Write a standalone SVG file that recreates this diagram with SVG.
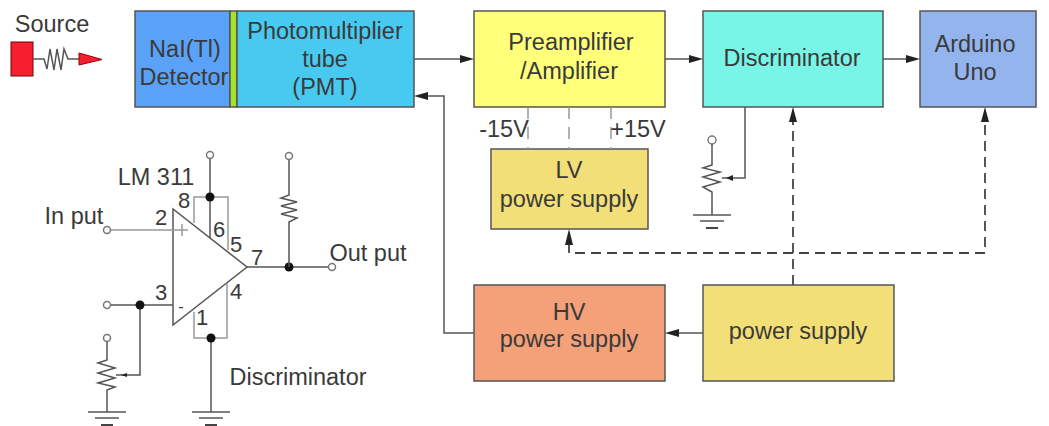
<svg xmlns="http://www.w3.org/2000/svg" width="1049" height="426" viewBox="0 0 1049 426">
<style>
text{font-family:"Liberation Sans",Arial,sans-serif;font-size:23.500px;fill:#3a3a3a;text-anchor:middle}
.n{font-size:22px}
.box{stroke:#555;stroke-width:1.5}
.w{fill:none;stroke:#555;stroke-width:1.5}
.g{fill:none;stroke:#999;stroke-width:1.5}
.d{fill:none;stroke:#444;stroke-width:1.8;stroke-dasharray:10 6}
.gd{fill:none;stroke:#999;stroke-width:1.5;stroke-dasharray:12 8}
.t{fill:#fff;stroke:#777;stroke-width:1.5}
.dot{fill:#111}
.a{fill:#222}
</style>
<defs>
<g id="gnd"><path class="w" d="M-19 0H19M-12 6H12"/><path d="M-6 13H6" fill="none" stroke="#444" stroke-width="2"/></g>
</defs>
<rect width="1049" height="426" fill="#fff"/>
<g id="source">
<text x="52" y="32">Source</text>
<rect x="11" y="42" width="22" height="34" fill="#f61f30" stroke="#700" stroke-width="1"/>
<path class="w" d="M33 59H44L47 69 50 49 54 70 57 49 61 70 64 49 68 59H79"/>
<path d="M79 53L102 59.500 79 65Z" fill="#f61f30" stroke="#900" stroke-width="1"/>
</g>
<g id="detector">
<rect class="box" x="135" y="11" width="95" height="96" fill="#5aa2f7"/>
<text x="185" y="57">NaI(Tl)</text><text x="184" y="85">Detector</text>
</g>
<g id="window"><rect class="box" x="230" y="11" width="7" height="96" fill="#a4e32a"/></g>
<g id="pmt">
<rect class="box" x="237" y="11" width="177" height="96" fill="#48caf0"/>
<text x="325" y="39">Photomultiplier</text><text x="325" y="67">tube</text><text x="325" y="95">(PMT)</text>
</g>
<g id="preamp">
<rect class="box" x="474" y="11" width="191" height="96" fill="#ffff7a"/>
<text x="571" y="50">Preamplifier</text><text x="569" y="79">/Amplifier</text>
</g>
<g id="discriminator">
<rect class="box" x="703" y="11" width="180" height="96" fill="#78f5e6"/>
<text x="792" y="66">Discriminator</text>
</g>
<g id="arduino">
<rect class="box" x="920" y="11" width="116" height="96" fill="#94b4ee"/>
<text x="975" y="52">Arduino</text><text x="975" y="80">Uno</text>
</g>
<g id="lv">
<rect class="box" x="491" y="149" width="157" height="80" fill="#f3df78"/>
<text x="569" y="178">LV</text><text x="569" y="207">power supply</text>
</g>
<g id="hv">
<rect class="box" x="474" y="285" width="191" height="96" fill="#f4a078"/>
<text x="569" y="320">HV</text><text x="569" y="347">power supply</text>
</g>
<g id="power">
<rect class="box" x="703" y="285" width="191" height="96" fill="#f3df78"/>
<text x="798" y="339">power supply</text>
</g>
<g id="connectors">
<path class="w" d="M414 59H462"/><path class="a" d="M474 59L460 55V63Z"/>
<path class="w" d="M665 59H691"/><path class="a" d="M703 59L689 55V63Z"/>
<path class="w" d="M883 59H908"/><path class="a" d="M920 59L906 55V63Z"/>
<path class="w" d="M474 333H444V96H426"/><path class="a" d="M414 96L428 92V100Z"/>
<path class="w" d="M703 333H677"/><path class="a" d="M665 333L679 329V337Z"/>
<path class="gd" d="M528 107V149M569 107V149M611 107V149"/>
<path class="d" d="M793 285V119"/><path class="a" d="M793 107L789 122H797Z"/>
<path class="d" d="M569 243V253H985V119"/><path class="a" d="M569 229L565 245H573Z"/><path class="a" d="M985 107L981 122H989Z"/>
<path class="w" d="M745 107V178H722"/><path class="a" d="M726 178L733 175V181Z"/>
</g>
<g id="pot-right">
<circle class="t" cx="712" cy="140" r="4"/>
<path class="w" d="M712 144V165L703 168 720 172 703 177 720 182 703 187 712 192V215"/>
<use href="#gnd" x="712" y="215"/>
</g>
<g id="labels-15v">
<text x="504" y="137">-15V</text><text x="638" y="137">+15V</text>
</g>
<g id="comparator">
<path d="M173 209V325L247 267Z" fill="#fff" stroke="#555" stroke-width="1.5"/>
<text x="156" y="185">LM 311</text>
<text x="74" y="224">In put</text>
<text x="368" y="261">Out put</text>
<text x="298" y="385">Discriminator</text>
<text class="n" x="161" y="225">2</text><text class="n" x="184" y="208">8</text><text class="n" x="219" y="237">6</text><text class="n" x="236" y="252">5</text><text class="n" x="257" y="265">7</text>
<text class="n" x="161" y="300">3</text><text class="n" x="236" y="299">4</text><text class="n" x="202" y="325">1</text>
<path class="g" d="M111 230H188M182 224V236"/>
<path class="g" d="M194 223V197H228V250"/>
<path class="w" d="M210 159V238"/>
<circle class="t" cx="210" cy="155" r="3.500"/><circle class="dot" cx="210" cy="197" r="4.500"/>
<circle class="t" cx="107" cy="230" r="3.500"/>
<path class="w" d="M247 267H329"/><circle class="dot" cx="289" cy="267" r="4.500"/><circle class="t" cx="332" cy="267" r="3.500"/>
<circle class="t" cx="289" cy="156" r="3.500"/>
<path class="w" d="M289 160V195L281 198 297 202 281 206 297 210 281 214 297 218 289 222V267"/>
<circle class="t" cx="107" cy="305" r="3.500"/>
<path class="w" d="M111 305H173M140 305V375H116"/><circle class="dot" cx="140" cy="305" r="4.500"/>
<path class="a" d="M121 375L127 373V377Z"/>
<circle class="t" cx="107" cy="338" r="3.500"/>
<path class="w" d="M107 342V360L98 363 115 368 98 373 115 378 98 383 115 387 107 390V412"/>
<use href="#gnd" x="107" y="412"/>
<path class="g" d="M194 312V338H227V283"/>
<path class="w" d="M211 338V412"/><circle class="dot" cx="211" cy="338" r="4.500"/>
<use href="#gnd" x="211" y="412"/>
<text x="181" y="312" style="font-size:16px">-</text>
</g>
</svg>
